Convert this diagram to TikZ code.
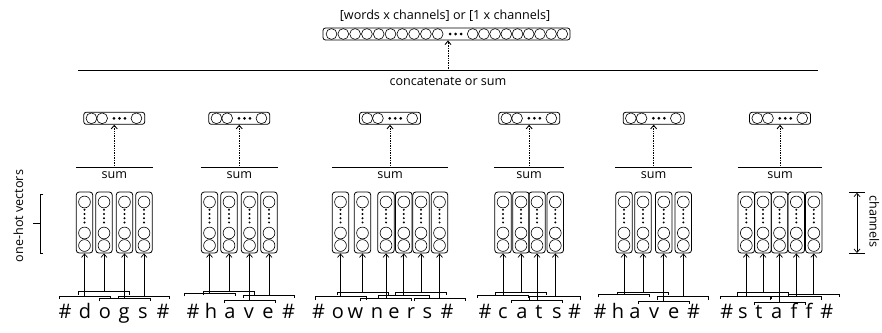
\documentclass[tikz,border=0pt]{standalone}
\usepackage{fontspec}
\setmainfont{Open Sans}
\usetikzlibrary{arrows.meta}

\begin{document}
\begin{tikzpicture}[x=1pt,y=-1pt,
    lbl/.style={font=\fontsize{12.6}{15}\selectfont},
    letter/.style={font=\fontsize{20}{24}\selectfont, anchor=base, inner sep=0pt},
    onehot/.style={draw, rounded corners=3pt, minimum width=16.5pt, minimum height=61pt, inner sep=0pt, line width=0.8pt},
    embbox/.style={draw, rounded corners=2.5pt, minimum width=61pt, minimum height=12pt, inner sep=0pt, line width=0.8pt},
    cell/.style={line width=0.6pt},
    tick/.style={line width=0.7pt},
    inarrow/.style={-{Straight Barb[length=3.5pt,width=6pt]}, line width=0.7pt},
    dotarrow/.style={inarrow, densely dotted, line width=0.9pt},
    sumline/.style={line width=1.2pt}]
    \useasboundingbox (0,0) rectangle (882,332);

    % Output vector
    \node[lbl, anchor=base] (title) at (445,19) {[words x channels] or [1 x channels]};
    \node[embbox, minimum width=247pt] (out) at (446.5,34) {};
    \foreach \i in {0,...,9} \draw[cell] (331.5+11.8*\i,34) circle[radius=5.4pt];
    \foreach \i in {0,...,8} \draw[cell] (472.7+11.2*\i,34) circle[radius=5.4pt];
    \foreach \x in {450,455.5,461} \fill (\x,34) circle[radius=1.5pt];

    % Concatenate line
    \coordinate (catl) at (78,70.7);
    \coordinate (catr) at (818,70.7);
    \draw[sumline] (catl) -- (catr) coordinate[pos=0.5] (catm);
    \node[lbl, anchor=base] (catlbl) at (448,85) {concatenate or sum};
    \draw[dotarrow] (catm) -- (catm |- out.south);

    % One-hot columns, trigram brackets
    \foreach \n/\x/\b in {d1/84.5/296, d2/104/291.7, d3/124.5/298.3, d4/144/296,
        h1/209.5/293.3, h2/229/291.7, h3/249.5/300, h4/269/295,
        o1/340.5/296.7, o2/362.5/292.3, o3/386/298.3, o4/403.8/295.7, o5/421/292.3, o6/439.5/298.3,
        c1/503/295, c2/521/292.3, c3/537/300, c4/555.3/296.7,
        v1/624/294.3, v2/643/292, v3/663.7/301, v4/683.3/296.7,
        s1/746.3/296, s2/763/292.7, s3/779.5/302, s4/796.3/296.7, s5/813.8/294.3}{
        \node[onehot] (col\n) at (\x,222.5) {};
        \foreach \y in {202,233,245.5} \draw[cell] (\x,\y) circle[radius=5.9pt];
        \foreach \y in {209.8,214,218.2,222.4} \fill (\x,\y) circle[radius=1.1pt];
        \draw[tick] (\x-25.5,\b+3) -- (\x-25.5,\b) -- (\x+25.5,\b) -- (\x+25.5,\b+3);
        \coordinate (br\n) at (\x,\b);
        \draw[inarrow] (br\n) -- (col\n);
    }

    % Sum per word
    \coordinate (sumy) at (0,167.5);
    \coordinate (emby) at (0,118.3);
    \foreach \w/\a/\b in {dogs/d1/d4, have/h1/h4, owners/o1/o6, cats/c1/c4, haveb/v1/v4, staff/s1/s5}{
        \draw[sumline] (col\a.west |- sumy) -- (col\b.east |- sumy) coordinate[pos=0.5] (sum\w);
        \node[lbl, anchor=base] (sumlbl\w) at ([yshift=-11pt]sum\w) {sum};
        \node[embbox] (emb\w) at (sum\w |- emby) {};
        \foreach \dx in {-22.8,-12.1,22.2} \draw[cell] ([xshift=\dx pt]emb\w.center) circle[radius=5.4pt];
        \foreach \dx in {-0.3,5.2,10.7} \fill ([xshift=\dx pt]emb\w.center) circle[radius=1.5pt];
        \draw[dotarrow] (sum\w) -- (emb\w.south);
    }

    % Characters
    \foreach \c/\x [count=\k] in {\#/65, d/85, o/105, g/124, s/143, \#/163,
        \#/193, h/211, a/230, v/249, e/268, \#/288.5,
        \#/318.5, o/338, w/355.5, n/377, e/394, r/411, s/427.5, \#/447,
        \#/485, c/503, a/522, t/539, s/557, \#/574.5,
        \#/600, h/618, a/635, v/654, e/673.7, \#/693.5,
        \#/726.7, s/743, t/759, a/776.7, f/794, f/809, \#/826.7}
        \node[letter] (ch\k) at (\x,318) {\c};

    % Side labels
    \node[lbl, rotate=90, anchor=base] (onehot) at (23,216) {one-hot vectors};
    \draw[tick] (43.3,194.3) -- (40,194.3) -- (40,253.3) -- (43.3,253.3);
    \draw[tick] (40,223.5) -- (33.3,223.5);
    \node[lbl, rotate=-90, anchor=base] (chan) at (869.5,221.5) {channels};
    \coordinate (chtop) at (857,192.7);
    \coordinate (chbot) at (857,253);
    \draw[tick] ([xshift=-8pt]chtop) -- ([xshift=8pt]chtop);
    \draw[tick] ([xshift=-8pt]chbot) -- ([xshift=8pt]chbot);
    \draw[inarrow, {Straight Barb[length=3.5pt,width=6pt]}-{Straight Barb[length=3.5pt,width=6pt]}] (chtop) -- (chbot);
\end{tikzpicture}
\end{document}
